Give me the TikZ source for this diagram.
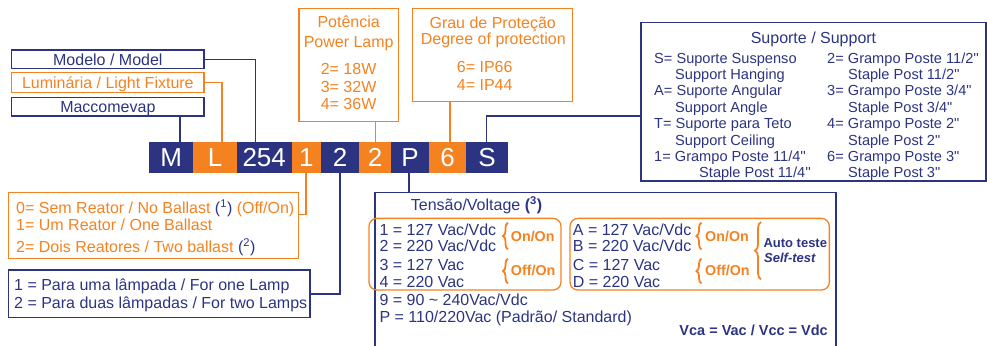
\documentclass[tikz,border=0pt]{standalone}
\usepackage{fontspec}
\setmainfont{Liberation Sans}
\usetikzlibrary{decorations.pathreplacing}
\definecolor{navy}{RGB}{44,52,130}
\definecolor{orng}{RGB}{245,130,32}
\begin{document}
\begin{tikzpicture}[x=1bp,y=-1bp,
  fs/.style={font=\fontsize{16bp}{19bp}\selectfont, text height=11.4bp, text depth=0pt, inner sep=0pt},
  fm/.style={font=\fontsize{14.6bp}{17bp}\selectfont, text height=10.4bp, text depth=0pt, inner sep=0pt, text=navy, anchor=west},
  fb/.style={font=\fontsize{14.3bp}{17bp}\selectfont\bfseries, text height=10.2bp, text depth=0pt, inner sep=0pt, text=orng, anchor=west},
  cellN/.style={fill=navy, text=white, font=\fontsize{26bp}{30bp}\selectfont, text height=18.6bp, text depth=0pt, inner sep=0pt, minimum height=30.7bp},
  cellO/.style={cellN, fill=orng},
  boxN/.style={draw=navy, line width=1.3bp, inner sep=0pt},
  boxO/.style={draw=orng, line width=1.3bp, inner sep=0pt},
  conN/.style={draw=navy, line width=1.3bp},
  conO/.style={draw=orng, line width=1.3bp},
  brc/.style={draw=orng, line width=1.8bp, decorate, decoration={brace, amplitude=5bp}},
  tn/.style={fs, text=navy, anchor=west},
  to/.style={fs, text=orng, anchor=west}
]
\useasboundingbox (0,0) rectangle (987,345);
\clip (0,0) rectangle (987,345);

% code bar
\node[cellN, minimum width=44.3bp] (cM) at (171.15,157.35) {M};
\node[cellO, minimum width=43.4bp] (cL) at (215,157.35) {L};
\node[cellN, minimum width=55bp] (c254) at (264.2,157.35) {254};
\node[cellO, minimum width=29.3bp] (c1) at (306.35,157.35) {1};
\node[cellN, minimum width=38.3bp] (c2) at (340.15,157.35) {2};
\node[cellO, minimum width=31.4bp] (c2b) at (375,157.35) {2};
\node[cellN, minimum width=38.6bp] (cP) at (410,157.35) {P};
\node[cellO, minimum width=36.7bp] (c6) at (447.65,157.35) {6};
\node[cellN, minimum width=42.3bp] (cS) at (487.15,157.35) {S};

% left top boxes
\node[boxN, fs, text=navy, minimum width=192.3bp, minimum height=18.7bp] (bModel) at (107.85,59.35) {Modelo / Model};
\node[boxO, fs, text=orng, minimum width=192.3bp, minimum height=20bp] (bLum) at (107.85,82.3) {Luminária / Light Fixture};
\node[boxN, fs, text=navy, minimum width=192.3bp, minimum height=18.7bp] (bMac) at (107.85,106.65) {Maccomevap};

% Potencia
\node[boxO, minimum width=99.3bp, minimum height=113.4bp] (bPot) at (348.65,65) {};
\node[fs, text=orng] (pt1) at (348.7,21.7) {Potência};
\node[fs, text=orng] (pt2) at (348.7,42) {Power Lamp};
\node[fs, text=orng] (pt3) at (348.6,68.7) {2= 18W};
\node[fs, text=orng] (pt4) at (348.6,86.7) {3= 32W};
\node[fs, text=orng] (pt5) at (348.6,104) {4= 36W};

% Grau
\node[boxO, minimum width=160bp, minimum height=93.4bp] (bGrau) at (492.7,55) {};
\node[fs, text=orng] (g1) at (492.7,22.3) {Grau de Proteção};
\node[fs, text=orng] (g2) at (493.3,38.7) {Degree of protection};
\node[to] (g3) at (456.7,66.7) {6= IP66};
\node[to] (g4) at (456.7,85) {4= IP44};

% Suporte
\node[boxN, minimum width=345bp, minimum height=158.3bp] (bSup) at (813.5,101.85) {};
\node[fs, text=navy] (s0) at (813.5,37.3) {Suporte / Support};
\node[fm] (s1) at (654,58.3) {S= Suporte Suspenso};
\node[fm] (s2) at (675,74) {Support Hanging};
\node[fm] (s3) at (654,90.7) {A= Suporte Angular};
\node[fm] (s4) at (675,107.3) {Support Angle};
\node[fm] (s5) at (654,123.3) {T= Suporte para Teto};
\node[fm] (s6) at (675,140) {Support Ceiling};
\node[fm] (s7) at (654,156) {1= Grampo Poste 11/4\textquotesingle\textquotesingle};
\node[fm] (s8) at (699,172.7) {Staple Post 11/4\textquotesingle\textquotesingle};
\node[fm] (r1) at (827,58.3) {2= Grampo Poste 11/2\textquotesingle\textquotesingle};
\node[fm] (r2) at (848,74) {Staple Post 11/2\textquotedbl};
\node[fm] (r3) at (827,90.7) {3= Grampo Poste 3/4\textquotedbl};
\node[fm] (r4) at (848,107.3) {Staple Post 3/4\textquotedbl};
\node[fm] (r5) at (827,123.3) {4= Grampo Poste 2\textquotedbl};
\node[fm] (r6) at (848,140) {Staple Post 2\textquotedbl};
\node[fm] (r7) at (827,156) {6= Grampo Poste 3\textquotedbl};
\node[fm] (r8) at (848,172.7) {Staple Post 3\textquotedbl};

% Ballast
\node[boxO, minimum width=290bp, minimum height=66bp] (bBal) at (153.3,225.3) {};
\node[to] (b1) at (16,207.7) {0= Sem Reator / No Ballast {\color{navy}(\textsuperscript{1})} (Off/On)};
\node[to] (b2) at (16,225) {1= Um Reator / One Ballast};
\node[to] (b3) at (16,246.7) {2= Dois Reatores / Two ballast {\color{navy}(\textsuperscript{2})}};

% Lamps
\node[boxN, minimum width=301.7bp, minimum height=47.3bp] (bLamp) at (159.15,293.65) {};
\node[tn] (l1) at (14,285) {1 = Para uma lâmpada / For one Lamp};
\node[tn] (l2) at (14,302.7) {2 = Para duas lâmpadas / For two Lamps};

% Voltage
\node[boxN, minimum width=461bp, minimum height=167.3bp] (bVolt) at (605.5,276.35) {};
\node[tn] (v0) at (410.7,205) {Tensão/Voltage \textbf{(\textsuperscript{3})}};
\node[draw=orng, line width=1.3bp, rounded corners=8bp, minimum width=192bp, minimum height=71.7bp] (rb1) at (465,254.2) {};
\node[draw=orng, line width=1.3bp, rounded corners=8bp, minimum width=259.3bp, minimum height=71.7bp] (rb2) at (699.7,254.2) {};
\node[tn] (v1) at (379.3,229.3) {1 = 127 Vac/Vdc};
\node[tn] (v2) at (379.3,245.7) {2 = 220 Vac/Vdc};
\node[tn] (v3) at (379.3,264.3) {3 = 127 Vac};
\node[tn] (v4) at (379.3,281.7) {4 = 220 Vac};
\node[tn] (w1) at (572.7,229.3) {A = 127 Vac/Vdc};
\node[tn] (w2) at (572.7,245.7) {B = 220 Vac/Vdc};
\node[tn] (w3) at (572.7,264.3) {C = 127 Vac};
\node[tn] (w4) at (572.7,281.7) {D = 220 Vac};
\node[tn] (v9) at (379.3,299.3) {9 = 90 \textasciitilde{} 240Vac/Vdc};
\node[tn] (vP) at (379.3,316.7) {P = 110/220Vac (Padrão/ Standard)};
\node[font=\fontsize{14.5bp}{17bp}\selectfont\bfseries, text=navy, text height=10.4bp, text depth=0pt, inner sep=0pt, anchor=east] (vca) at (828,330.7) {Vca = Vac / Vcc = Vdc};

\draw[brc] (508,249.3) -- (508,222.7);
\draw[brc] (508,283.3) -- (508,258.7);
\draw[brc] (701.5,249.3) -- (701.5,222.7);
\draw[brc] (701.5,283.3) -- (701.5,258.7);
\draw[brc, decoration={brace, amplitude=6bp}] (761,279.3) -- (761,222);
\node[fb] (o1) at (510.7,236) {On/On};
\node[fb] (o2) at (510.7,270.7) {Off/On};
\node[fb] (o3) at (705,236) {On/On};
\node[fb] (o4) at (705,270.7) {Off/On};
\node[font=\fontsize{13bp}{15bp}\selectfont\bfseries, text=navy, text height=9.3bp, text depth=0pt, inner sep=0pt, anchor=west] (at1) at (763.3,243.3) {Auto teste};
\node[font=\fontsize{13bp}{15bp}\selectfont\bfseries\itshape, text=navy, text height=9.3bp, text depth=0pt, inner sep=0pt, anchor=west] (at2) at (764,257.7) {Self-test};

% connectors
\draw[conN] (bMac.south -| 180,0) -- (cM.north -| 180,0);
\draw[conO] (bLum.east) -| (cL.north -| 222,0);
\draw[conN] (bModel.east) -| (c254.north -| 255.3,0);
\draw[conO] (bPot.south -| 375.7,0) -- (c2b.north -| 375.7,0);
\draw[conO] (bGrau.south -| 450,0) -- (c6.north -| 450,0);
\draw[conN] (cS.north -| 486.7,0) |- (bSup.west |- 0,116);
\draw[conO] (c1.south -| 306,0) |- (bBal.east |- 0,214.3);
\draw[conN] (c2.south -| 340,0) |- (bLamp.east |- 0,294);
\draw[conN] (cP.south -| 409,0) -- (bVolt.north -| 409,0);
\end{tikzpicture}
\end{document}
